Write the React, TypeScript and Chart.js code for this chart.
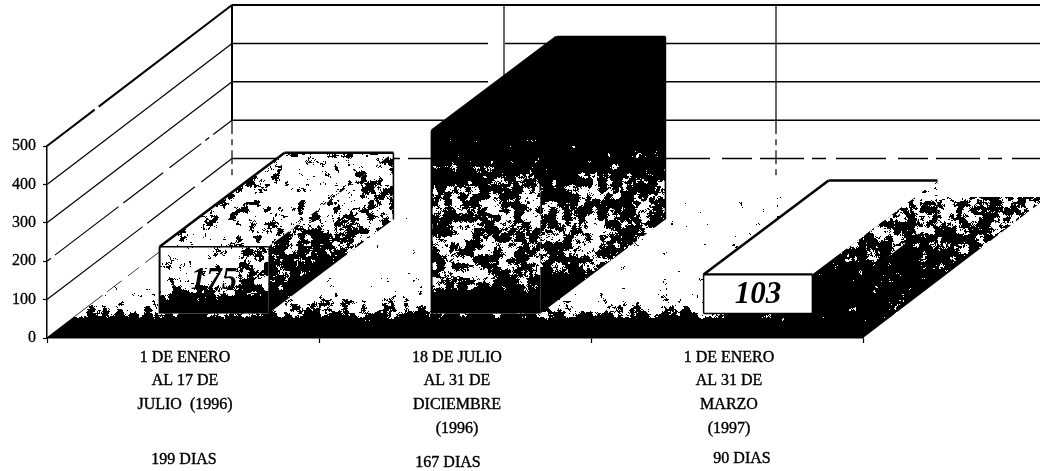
import React, { useEffect, useRef } from "react";
import { Chart, registerables } from "chart.js";

Chart.register(...registerables);

const categories = [
  ["1 DE ENERO", "AL 17 DE", "JULIO  (1996)"],
  ["18 DE JULIO", "AL 31 DE", "DICIEMBRE", "(1996)"],
  ["1 DE ENERO", "AL 31 DE", "MARZO", "(1997)"],
];
const values = [175, 477, 103];
const valueLabels = ["175", "", "103"];
const dayLabels = ["199 DIAS", "167 DIAS", "90 DIAS"];

const W = 1040;
const H = 471;
const FONT = '"Liberation Serif", serif';
const WALL = { dx: 185, dy: -141 };
const BAR_FRONT = { dx: 31, dy: -24 };
const BAR_DEPTH = { dx: 125, dy: -94 };
const DAY_Y = [460, 463, 459];
const DAY_SHIFT = [1, -7, 15];
const LABEL_Y = [281, 0, 295];

const LEFT_DASH: Record<number, number[]> = {
  0: [70, 6, 18, 8, 14, 8],
  100: [120, 6, 60, 8, 40, 6],
  200: [5, 5, 80, 6, 50, 8, 40, 5],
  300: [9999],
  400: [9999],
  500: [60, 5, 9999],
};
const BACK_DASH: Record<number, number[]> = {
  100: [44, 8, 14, 10, 50, 12, 30, 8],
  200: [9999],
  300: [256, 17, 9999],
  400: [256, 17, 9999],
  500: [9999],
};

type Pt = [number, number];
type Density = (x: number, y: number) => number;

const lat = (ix: number, iy: number, seed: number) => {
  let h = (ix * 374761393 + iy * 668265263 + seed * 2246822519) | 0;
  h = Math.imul(h ^ (h >>> 13), 1274126177);
  h = h ^ (h >>> 16);
  return (h >>> 0) / 4294967295;
};
const smooth = (t: number) => t * t * (3 - 2 * t);
const vnoise = (x: number, y: number, seed: number) => {
  const ix = Math.floor(x);
  const iy = Math.floor(y);
  const fx = smooth(x - ix);
  const fy = smooth(y - iy);
  const a = lat(ix, iy, seed) * (1 - fx) + lat(ix + 1, iy, seed) * fx;
  const b = lat(ix, iy + 1, seed) * (1 - fx) + lat(ix + 1, iy + 1, seed) * fx;
  return a * (1 - fy) + b * fy;
};
const grain = (x: number, y: number, seed: number) =>
  0.52 * vnoise(x / 7, y / 7, seed) + 0.3 * vnoise(x / 2.6, y / 2.6, seed + 7) + 0.18 * vnoise(x, y, seed + 13);

const lerpStops = (v: number, stops: number[][]) => {
  if (v <= stops[0][0]) return stops[0][1];
  for (let i = 1; i < stops.length; i++) {
    if (v <= stops[i][0]) {
      const t = (v - stops[i - 1][0]) / (stops[i][0] - stops[i - 1][0]);
      return stops[i - 1][1] + t * (stops[i][1] - stops[i - 1][1]);
    }
  }
  return stops[stops.length - 1][1];
};

function speckle(ctx: CanvasRenderingContext2D, poly: Pt[], density: Density, seed: number) {
  const xs = poly.map((p) => p[0]);
  const ys = poly.map((p) => p[1]);
  const x0 = Math.max(0, Math.floor(Math.min(...xs)));
  const y0 = Math.max(0, Math.floor(Math.min(...ys)));
  const x1 = Math.min(W, Math.ceil(Math.max(...xs)));
  const y1 = Math.min(H, Math.ceil(Math.max(...ys)));
  const c = document.createElement("canvas");
  c.width = x1 - x0;
  c.height = y1 - y0;
  const o = c.getContext("2d")!;
  const img = o.createImageData(c.width, c.height);
  for (let y = 0; y < c.height; y++) {
    for (let x = 0; x < c.width; x++) {
      const px = x + x0;
      const py = y + y0;
      const black = grain(px, py, seed) < density(px, py);
      const i = (y * c.width + x) * 4;
      const v = black ? 0 : 255;
      img.data[i] = v;
      img.data[i + 1] = v;
      img.data[i + 2] = v;
      img.data[i + 3] = 255;
    }
  }
  o.putImageData(img, 0, 0);
  ctx.save();
  ctx.beginPath();
  poly.forEach((p, i) => (i ? ctx.lineTo(p[0], p[1]) : ctx.moveTo(p[0], p[1])));
  ctx.closePath();
  ctx.clip();
  ctx.drawImage(c, x0, y0);
  ctx.restore();
}

function line(ctx: CanvasRenderingContext2D, a: Pt, b: Pt, w: number, dash: number[] = []) {
  ctx.save();
  ctx.strokeStyle = "#000";
  ctx.lineWidth = w;
  ctx.setLineDash(dash);
  ctx.beginPath();
  ctx.moveTo(a[0], a[1]);
  ctx.lineTo(b[0], b[1]);
  ctx.stroke();
  ctx.restore();
}

const floorDensity: Density = (x, y) => {
  const u = x - ((338 - y) * WALL.dx) / -WALL.dy;
  const byY = lerpStops(y, [[285, 0.16], [298, 0.28], [308, 0.42], [316, 0.62], [322, 0.95]]);
  const byU = lerpStops(u, [[560, 0.16], [660, 0.24], [700, 0.7], [760, 0.72]]);
  const back = lerpStops(y, [[197, 0.46], [225, 0.54], [260, 0.75]]);
  return Math.max(byY, u > 660 ? byU * (back / 0.72) : byU);
};

const faceDensities: Density[][] = [
  [
    (x, y) => lerpStops(y, [[247, 0.3], [285, 0.33], [293, 0.55], [303, 0.9]]) + (x > 238 ? 0.14 : 0),
    () => 0.38,
    (x, y) => lerpStops(y, [[160, 0.42], [230, 0.5], [280, 0.72]]),
  ],
  [
    (_x, y) => lerpStops(y, [[131, 0.95], [170, 0.72], [200, 0.52], [280, 0.54], [300, 0.92]]),
    () => 1,
    (_x, y) => lerpStops(y, [[120, 0.95], [165, 0.78], [190, 0.54], [255, 0.54], [290, 0.92]]),
  ],
  [
    () => 0,
    () => 0,
    (_x, y) => lerpStops(y, [[190, 0.42], [240, 0.55], [300, 0.9]]),
  ],
];

const scene3d = {
  id: "scene3d",
  beforeDraw(chart: any) {
    const { ctx, scales } = chart;
    const x = scales.x;
    const y = scales.y;
    const left = x.left;
    const right = x.right;
    const bottom = y.getPixelForValue(0);
    const ticks = y.ticks.map((t: any) => t.value);

    const step = (right - left) / categories.length;
    ticks.forEach((v: number) => {
      const py = y.getPixelForValue(v);
      const a: Pt = [left, py];
      const b: Pt = [left + WALL.dx, py + WALL.dy];
      line(ctx, a, b, v === 500 ? 2 : 1.2, LEFT_DASH[v] || []);
      if (v > 0) line(ctx, b, [W, py + WALL.dy], v === 500 ? 2 : 1.5, BACK_DASH[v] || []);
    });
    for (let i = 0; i < categories.length; i++) {
      const bx = left + WALL.dx + i * step;
      const top = y.getPixelForValue(500) + WALL.dy;
      const mid = y.getPixelForValue(200) + WALL.dy;
      line(ctx, [bx, top], [bx, mid], i === 0 ? 2 : 1.2);
      line(ctx, [bx, mid], [bx, bottom + WALL.dy - 17], 1.2, [14, 5, 6, 5]);
    }

    const floor: Pt[] = [
      [left, bottom],
      [right, bottom],
      [right + WALL.dx, bottom + WALL.dy],
      [left + WALL.dx, bottom + WALL.dy],
    ];
    speckle(ctx, floor, floorDensity, 11);
  },
  beforeDatasetDraw(chart: any) {
    chart.ctx.save();
    chart.ctx.translate(BAR_FRONT.dx, BAR_FRONT.dy);
  },
  afterDatasetDraw(chart: any) {
    chart.ctx.restore();
  },
  afterDatasetsDraw(chart: any) {
    const { ctx, scales } = chart;
    const meta = chart.getDatasetMeta(0);
    meta.data.forEach((el: any, i: number) => {
      const { x, y, base, width } = el.getProps(["x", "y", "base", "width"], true);
      const l = x - width / 2 + BAR_FRONT.dx;
      const r = x + width / 2 + BAR_FRONT.dx;
      const t = y + BAR_FRONT.dy;
      const b = base + BAR_FRONT.dy;
      const d = BAR_DEPTH;
      const front: Pt[] = [[l, t], [r, t], [r, b], [l, b]];
      const top: Pt[] = [[l, t], [r, t], [r + d.dx, t + d.dy], [l + d.dx, t + d.dy]];
      const side: Pt[] = [[r, t], [r + d.dx, t + d.dy], [r + d.dx, b + d.dy], [r, b]];
      const [fd, td, sd] = faceDensities[i];
      speckle(ctx, front, fd, 21 + i * 3);
      speckle(ctx, top, td, 41 + i * 3);
      speckle(ctx, side, sd, 61 + i * 3);
      const weight = i === 2 ? 2.2 : 1.6;
      line(ctx, top[0], top[3], 2.6);
      line(ctx, top[3], top[2], 2.4);
      line(ctx, top[0], top[1], weight);
      if (i === 2) {
        line(ctx, front[0], front[3], 1.5);
        line(ctx, front[1], front[2], 1.5);
        line(ctx, front[3], front[2], 1.5);
      } else {
        line(ctx, front[0], front[3], 2);
        line(ctx, top[2], side[2], 1.6);
      }
      if (i === 1) {
        line(ctx, front[1], [r, t + 60], 2);
        line(ctx, top[1], top[2], 2);
      }
      if (valueLabels[i]) {
        ctx.save();
        ctx.font = `italic bold 31px ${FONT}`;
        ctx.fillStyle = "#000";
        ctx.textAlign = "center";
        ctx.textBaseline = "middle";
        ctx.fillText(valueLabels[i], (l + r) / 2, LABEL_Y[i]);
        ctx.restore();
      }
    });
    ctx.save();
    ctx.font = `16px ${FONT}`;
    ctx.fillStyle = "#000";
    ctx.strokeStyle = "#000";
    ctx.lineWidth = 0.4;
    ctx.textAlign = "center";
    ctx.textBaseline = "middle";
    dayLabels.forEach((s, i) => {
      const px = scales.x.getPixelForValue(i) + DAY_SHIFT[i];
      ctx.fillText(s, px, DAY_Y[i]);
      ctx.strokeText(s, px, DAY_Y[i]);
    });
    ctx.restore();
  },
};

export default function App() {
  const ref = useRef<HTMLCanvasElement>(null);
  useEffect(() => {
    const chart = new Chart(ref.current!, {
      type: "bar",
      data: {
        labels: categories,
        datasets: [
          {
            data: values,
            backgroundColor: "#fff",
            borderWidth: 0,
            categoryPercentage: 1,
            barPercentage: 0.4,
          },
        ],
      },
      options: {
        animation: false,
        responsive: false,
        layout: { padding: { top: 146, right: 177, left: 0, bottom: 0 } },
        plugins: { legend: { display: false }, tooltip: { enabled: false } },
        scales: {
          x: {
            afterFit: (s: any) => {
              s.height = 133;
            },
            grid: { drawOnChartArea: false, color: "#000", tickLength: 5, tickWidth: 1.2 },
            border: { color: "#000", width: 1.5 },
            ticks: {
              color: "#000",
              maxRotation: 0,
              padding: 3,
              labelOffset: 2,
              textStrokeColor: "#000",
              textStrokeWidth: 0.4,
              font: { family: FONT, size: 16, lineHeight: 1.47 },
            },
          },
          y: {
            min: 0,
            max: 500,
            afterFit: (s: any) => {
              s.width = 47;
            },
            grid: { drawOnChartArea: false, color: "#000", tickLength: 4, tickWidth: 1.2 },
            border: { color: "#000", width: 1.5 },
            ticks: {
              stepSize: 100,
              color: "#000",
              padding: 7,
              textStrokeColor: "#000",
              textStrokeWidth: 0.3,
              font: { family: FONT, size: 16 },
            },
          },
        },
      },
      plugins: [scene3d],
    } as any);
    return () => chart.destroy();
  }, []);
  return (
    <div style={{ position: "absolute", left: 0, top: 0, width: W, height: H, background: "#fff" }}>
      <canvas ref={ref} width={W} height={H} style={{ display: "block" }} />
    </div>
  );
}
